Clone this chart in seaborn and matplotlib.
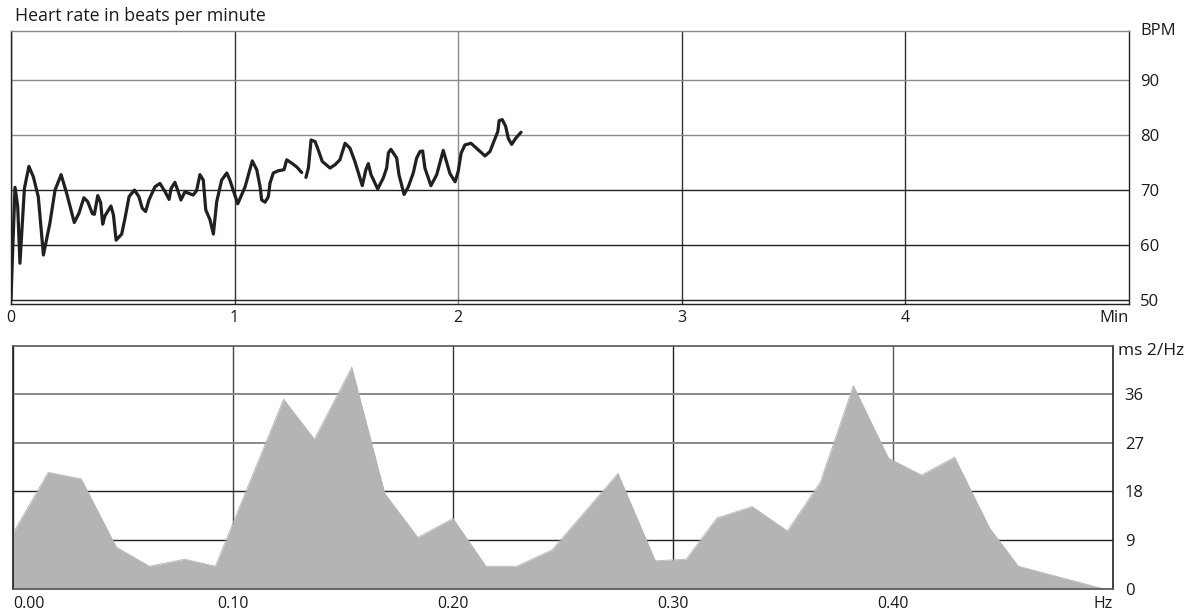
import matplotlib
matplotlib.use("Agg")
import matplotlib.pyplot as plt
import numpy as np
import pandas as pd
import seaborn as sns

# ---- heart rate trace (minutes, beats per minute); two recorded segments ----
hr_min_a = [0.000, 0.006, 0.018, 0.030, 0.040, 0.060, 0.080, 0.100, 0.122, 0.145,
            0.174, 0.197, 0.224, 0.249, 0.283, 0.304, 0.326, 0.343, 0.364, 0.373,
            0.388, 0.401, 0.410, 0.420, 0.447, 0.458, 0.470, 0.495, 0.510, 0.528,
            0.552, 0.572, 0.587, 0.602, 0.617, 0.644, 0.666, 0.689, 0.707, 0.716,
            0.733, 0.748, 0.760, 0.778, 0.801, 0.815, 0.830, 0.845, 0.860, 0.871,
            0.890, 0.905, 0.920, 0.942, 0.965, 0.979, 1.014, 1.047, 1.079, 1.099,
            1.114, 1.121, 1.136, 1.151, 1.158, 1.173, 1.195, 1.221, 1.233, 1.255,
            1.278, 1.300]
hr_bpm_a = [50.0, 57.3, 70.5, 67.0, 56.7, 70.3, 74.3, 72.4, 68.8, 58.2,
            64.0, 70.0, 72.8, 69.4, 64.1, 65.8, 68.6, 67.9, 65.7, 65.6,
            69.0, 67.7, 63.8, 65.3, 67.1, 65.5, 60.9, 62.0, 64.9, 68.8,
            70.0, 68.8, 66.7, 66.1, 68.2, 70.6, 71.2, 69.7, 68.3, 70.3,
            71.4, 69.7, 68.2, 69.7, 69.3, 69.1, 69.9, 72.8, 71.8, 66.4,
            64.6, 62.0, 67.9, 71.8, 73.1, 71.8, 67.5, 70.6, 75.3, 73.7,
            70.6, 68.2, 67.8, 68.8, 71.2, 73.1, 73.5, 73.7, 75.5, 74.9,
            74.2, 73.2]

hr_min_b = [1.319, 1.330, 1.342, 1.360, 1.374, 1.392, 1.427, 1.449, 1.471, 1.494,
            1.516, 1.538, 1.556, 1.571, 1.587, 1.598, 1.610, 1.640, 1.665, 1.680,
            1.688, 1.699, 1.725, 1.735, 1.758, 1.777, 1.799, 1.814, 1.829, 1.841,
            1.851, 1.878, 1.904, 1.933, 1.963, 1.986, 2.000, 2.013, 2.030, 2.057,
            2.090, 2.120, 2.142, 2.165, 2.177, 2.183, 2.197, 2.212, 2.224, 2.239,
            2.257, 2.281]
hr_bpm_b = [72.3, 74.0, 79.1, 78.8, 77.3, 75.2, 74.0, 74.6, 75.5, 78.5,
            77.6, 75.2, 72.8, 70.8, 73.7, 74.8, 72.8, 70.2, 72.2, 74.0,
            76.8, 77.4, 75.8, 72.8, 69.2, 70.6, 73.1, 75.8, 77.0, 77.1,
            74.0, 70.8, 72.8, 77.2, 73.0, 71.5, 73.4, 76.7, 78.2, 78.5,
            77.3, 76.2, 77.0, 79.4, 80.6, 82.6, 82.8, 81.6, 79.4, 78.3,
            79.4, 80.5]

bpm_ticks = [50, 60, 70, 80, 90]
min_ticks = [0, 1, 2, 3, 4]

# ---- power spectral density (Hz, ms^2/Hz) ----
freq_hz = [0.000, 0.016, 0.031, 0.047, 0.062, 0.078, 0.092, 0.123, 0.137, 0.154,
           0.169, 0.184, 0.200, 0.215, 0.229, 0.245, 0.275, 0.292, 0.306, 0.320,
           0.336, 0.352, 0.367, 0.382, 0.398, 0.413, 0.428, 0.444, 0.457, 0.496]
psd_val = [10.3, 21.5, 20.3, 7.7, 4.2, 5.5, 4.2, 35.0, 27.6, 40.9,
           17.6, 9.5, 13.0, 4.2, 4.2, 7.2, 21.3, 5.2, 5.5, 13.1,
           15.2, 10.7, 19.7, 37.5, 24.1, 21.0, 24.3, 11.2, 4.2, 0.0]

psd_ticks = [0, 9, 18, 27, 36]
hz_ticks = [0.0, 0.1, 0.2, 0.3, 0.4]
hz_labels = ["0.00", "0.10", "0.20", "0.30", "0.40"]

sns.set_theme(style="white")
plt.rcParams['font.family'] = ['Open Sans', 'DejaVu Sans']

INK = "#231f20"
DARK = "#222222"
GRAY = "#8a8a8a"
FILL = "#b3b4b6"
TXT = "#1a1a1a"

fig = plt.figure(figsize=(11.89, 6.16), dpi=100)
ax1 = fig.add_axes([0.00925, 0.5065, 0.9403, 0.4432])
ax2 = fig.add_axes([0.01093, 0.0438, 0.9251, 0.3945])

# ---------------- heart rate panel ----------------
seg_a = pd.DataFrame({"t": hr_min_a, "bpm": hr_bpm_a})
seg_b = pd.DataFrame({"t": hr_min_b, "bpm": hr_bpm_b})
for seg in (seg_a, seg_b):
    sns.lineplot(data=seg, x="t", y="bpm", ax=ax1, color=INK, linewidth=2.3,
                 sort=False, estimator=None, zorder=3)

ax1.set_xlim(0, 5)
ax1.set_ylim(49.3, 98.9)
ax1.set_xticks(min_ticks)
ax1.set_xticklabels([str(v) for v in min_ticks])
ax1.set_yticks(bpm_ticks)
ax1.set_yticklabels([str(v) for v in bpm_ticks])
ax1.yaxis.tick_right()
ax1.set_xlabel("")
ax1.set_ylabel("")
ax1.tick_params(axis="x", length=0, pad=4, labelsize=11.5, labelcolor=TXT)
ax1.tick_params(axis="y", length=0, pad=8, labelsize=12, labelcolor=TXT)
ax1.grid(True)
ax1.set_axisbelow(True)
for line, c in zip(ax1.yaxis.get_gridlines(), [DARK, DARK, DARK, GRAY, GRAY]):
    line.set_color(c)
    line.set_linewidth(1.0)
for line, c in zip(ax1.xaxis.get_gridlines(), [DARK, "#333333", GRAY, "#333333", "#333333"]):
    line.set_color(c)
    line.set_linewidth(1.0)
for side, c in (("left", DARK), ("bottom", DARK), ("right", DARK), ("top", GRAY)):
    ax1.spines[side].set_color(c)
    ax1.spines[side].set_linewidth(1.0)
    ax1.spines[side].set_visible(True)

ax1.annotate("BPM", xy=(1, 1), xycoords="axes fraction", xytext=(8, 0),
             textcoords="offset points", ha="left", va="center", fontsize=12, color=TXT)
ax1.annotate("Min", xy=(1, 0), xycoords="axes fraction", xytext=(0, -4),
             textcoords="offset points", ha="right", va="top", fontsize=12, color=TXT)

# ---------------- spectrum panel ----------------
spec = pd.DataFrame({"f": freq_hz, "p": psd_val})
ax2.fill_between(spec["f"], 0, spec["p"], color=FILL, linewidth=0, zorder=2)
sns.lineplot(data=spec, x="f", y="p", ax=ax2, color=FILL, linewidth=0.6,
             sort=False, estimator=None, zorder=2)

ax2.set_xlim(0, 0.5)
ax2.set_ylim(0, 44.8)
ax2.set_xticks(hz_ticks)
ax2.set_xticklabels(hz_labels)
ax2.set_yticks(psd_ticks)
ax2.set_yticklabels([str(v) for v in psd_ticks])
ax2.yaxis.tick_right()
ax2.set_xlabel("")
ax2.set_ylabel("")
ax2.tick_params(axis="x", length=0, pad=5, labelsize=11.5, labelcolor=TXT)
ax2.tick_params(axis="y", length=0, pad=8.5, labelsize=12, labelcolor=TXT)
# first frequency label starts at the left edge of the panel
ax2.get_xticklabels()[0].set_horizontalalignment("left")
ax2.grid(True)
ax2.set_axisbelow(True)
for line, c, w in zip(ax2.yaxis.get_gridlines(), [DARK, DARK, DARK, GRAY, GRAY],
                      [1.0, 1.0, 1.0, 1.4, 1.4]):
    line.set_color(c)
    line.set_linewidth(w)
for line, c in zip(ax2.xaxis.get_gridlines(), [DARK, "#444444", "#333333", DARK, "#555555"]):
    line.set_color(c)
    line.set_linewidth(1.0)
for side, c in (("left", DARK), ("bottom", "#555555"), ("right", DARK), ("top", "#555555")):
    ax2.spines[side].set_color(c)
    ax2.spines[side].set_linewidth(1.2)
    ax2.spines[side].set_visible(True)
for sp in ax2.spines.values():
    sp.set_zorder(4)

ax2.annotate("ms 2/Hz", xy=(1, 1), xycoords="axes fraction", xytext=(3.5, -3.5),
             textcoords="offset points", ha="left", va="center", fontsize=12.5, color=TXT)
ax2.annotate("Hz", xy=(1, 0), xycoords="axes fraction", xytext=(0, -5),
             textcoords="offset points", ha="right", va="top", fontsize=11.5, color=TXT)

fig.text(15 / 1189, 1 - 16 / 616, "Heart rate in beats per minute", ha="left",
         va="center", fontsize=12.8, color=TXT)

fig.savefig("out.png", dpi=100)
